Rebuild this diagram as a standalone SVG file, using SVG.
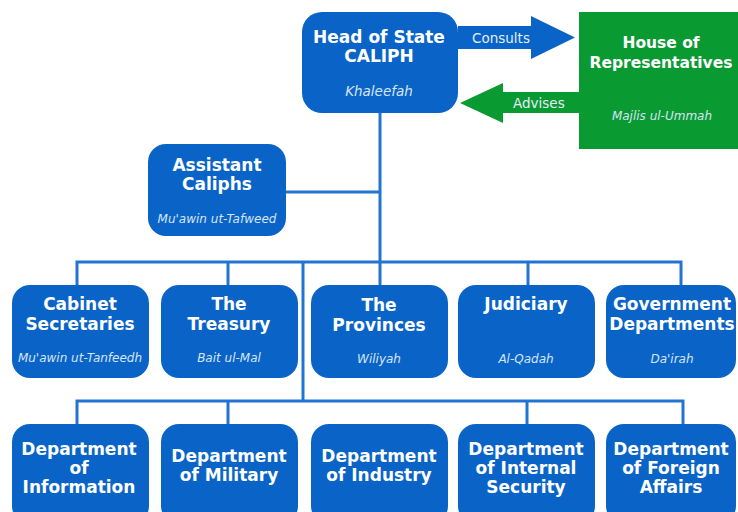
<svg xmlns="http://www.w3.org/2000/svg" width="738" height="512" viewBox="0 0 738 512">
<style>
.box{fill:#0a64c8}
.t{font-family:"DejaVu Sans",Verdana,sans-serif;font-weight:bold;font-size:17px;fill:#ffffff;text-anchor:middle}
.s{font-family:"DejaVu Sans",Verdana,sans-serif;font-style:italic;font-size:12px;fill:#d6e4f5;text-anchor:middle}
.lbl{font-family:"DejaVu Sans",Verdana,sans-serif;font-size:13.5px;fill:#e4edf8}
.ln{stroke:#2273d2;stroke-width:3;fill:none}
</style>
<rect width="738" height="512" fill="#ffffff"/>
<g id="connectors">
<path class="ln" d="M380 113V285"/>
<path class="ln" d="M286 192H380"/>
<path class="ln" d="M77 285V262H681V285"/>
<path class="ln" d="M228 262V285"/>
<path class="ln" d="M528 262V285"/>
<path class="ln" d="M303 262V401"/>
<path class="ln" d="M77 424V401H683V424"/>
<path class="ln" d="M228 401V424"/>
<path class="ln" d="M527 401V424"/>
<g id="consults">
<polygon points="458,26 531,26 531,16 575,37.5 531,59 531,49 458,49" fill="#0a64c8"/>
<text class="lbl" x="472" y="43">Consults</text>
</g>
<g id="advises">
<polygon points="579,92 503,92 503,83 460,103 503,123 503,113 579,113" fill="#0a9a32"/>
<text class="lbl" x="513" y="108">Advises</text>
</g>
</g>
<g id="head">
<rect class="box" x="302" y="12" width="156" height="101" rx="20"/>
<text class="t" x="379" y="43">Head of State</text>
<text class="t" x="379" y="62">CALIPH</text>
<text class="s" x="379" y="96" style="font-size:13.5px">Khaleefah</text>
</g>
<g id="house">
<rect x="579" y="12" width="165" height="137" fill="#0a9a32"/>
<text class="t" x="661" y="48" style="font-size:15.5px">House of</text>
<text class="t" x="661" y="68" style="font-size:15.5px">Representatives</text>
<text class="s" x="662" y="120">Majlis ul-Ummah</text>
</g>
<g id="assistant">
<rect class="box" x="148" y="144" width="138" height="92" rx="18"/>
<text class="t" x="217" y="171">Assistant</text>
<text class="t" x="217" y="190">Caliphs</text>
<text class="s" x="217" y="223">Mu'awin ut-Tafweed</text>
</g>
<g id="cabinet">
<rect class="box" x="12" y="285" width="137" height="93" rx="18"/>
<text class="t" x="80" y="310">Cabinet</text>
<text class="t" x="80" y="330">Secretaries</text>
<text class="s" x="80" y="362">Mu'awin ut-Tanfeedh</text>
</g>
<g id="treasury">
<rect class="box" x="161" y="285" width="137" height="93" rx="18"/>
<text class="t" x="229" y="310">The</text>
<text class="t" x="229" y="330">Treasury</text>
<text class="s" x="229" y="362">Bait ul-Mal</text>
</g>
<g id="provinces">
<rect class="box" x="311" y="285" width="137" height="93" rx="18"/>
<text class="t" x="379" y="311">The</text>
<text class="t" x="379" y="331">Provinces</text>
<text class="s" x="379" y="363">Wiliyah</text>
</g>
<g id="judiciary">
<rect class="box" x="458" y="285" width="137" height="93" rx="18"/>
<text class="t" x="526" y="310">Judiciary</text>
<text class="s" x="526" y="363">Al-Qadah</text>
</g>
<g id="government">
<rect class="box" x="606" y="285" width="130" height="93" rx="18"/>
<text class="t" x="672" y="310">Government</text>
<text class="t" x="672" y="330">Departments</text>
<text class="s" x="672" y="363">Da'irah</text>
</g>
<g id="information">
<rect class="box" x="12" y="424" width="137" height="100" rx="18"/>
<text class="t" x="79" y="455">Department</text>
<text class="t" x="79" y="474">of</text>
<text class="t" x="79" y="493">Information</text>
</g>
<g id="military">
<rect class="box" x="161" y="424" width="137" height="100" rx="18"/>
<text class="t" x="229" y="462">Department</text>
<text class="t" x="229" y="481">of Military</text>
</g>
<g id="industry">
<rect class="box" x="311" y="424" width="137" height="100" rx="18"/>
<text class="t" x="379" y="462">Department</text>
<text class="t" x="379" y="481">of Industry</text>
</g>
<g id="internal">
<rect class="box" x="458" y="424" width="137" height="100" rx="18"/>
<text class="t" x="526" y="455">Department</text>
<text class="t" x="526" y="474">of Internal</text>
<text class="t" x="526" y="493">Security</text>
</g>
<g id="foreign">
<rect class="box" x="606" y="424" width="130" height="100" rx="18"/>
<text class="t" x="671" y="455">Department</text>
<text class="t" x="671" y="474">of Foreign</text>
<text class="t" x="671" y="493">Affairs</text>
</g>
</svg>
